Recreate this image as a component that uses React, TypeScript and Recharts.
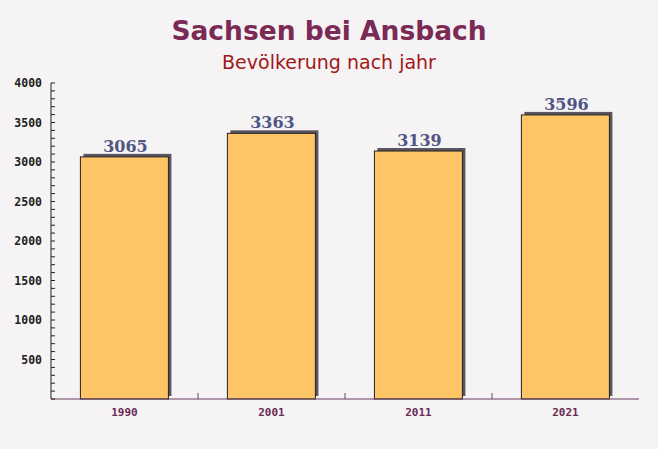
import React from 'react';
import { BarChart, Bar, XAxis, YAxis, LabelList } from 'recharts';

const years = ['1990', '2001', '2011', '2021'];
const population = [3065, 3363, 3139, 3596];
const yMajorTicks = [500, 1000, 1500, 2000, 2500, 3000, 3500, 4000];

const data = years.map((year, i) => ({ year, value: population[i] }));

const W = 658;
const H = 449;
const PLOT_LEFT = 51;
const PLOT_RIGHT = 639;
const PLOT_TOP = 83;
const PLOT_BOTTOM = 399;
const band = (PLOT_RIGHT - PLOT_LEFT) / years.length;

const minorTicks: number[] = [];
for (let v = 0; v <= 4000; v += 100) minorTicks.push(v);

function BarShape(props: any) {
  const { x, y, width, height } = props;
  return (
    <g>
      <rect x={x + 3} y={y - 3} width={width} height={height} fill="#5a5560" />
      <rect x={x} y={y} width={width} height={height} fill="#fdc566" stroke="#222" strokeWidth={1} />
    </g>
  );
}

function YTick(props: any) {
  const { y, payload } = props;
  const major = yMajorTicks.includes(payload.value);
  return (
    <g>
      <line x1={PLOT_LEFT} x2={PLOT_LEFT + 4} y1={y} y2={y} stroke="#222" strokeWidth={1} />
      {major && (
        <text
          x={PLOT_LEFT - 9}
          y={y}
          dy={4}
          textAnchor="end"
          fontFamily="'DejaVu Sans Mono', monospace"
          fontWeight="bold"
          fontSize={11.5}
          fill="#222"
        >
          {payload.value}
        </text>
      )}
    </g>
  );
}

function XTick(props: any) {
  const { x, payload, index } = props;
  return (
    <g>
      {index < years.length - 1 && (
        <line x1={x + band / 2} x2={x + band / 2} y1={PLOT_BOTTOM - 6} y2={PLOT_BOTTOM} stroke="#555" strokeWidth={1} />
      )}
      <text
        x={x}
        y={PLOT_BOTTOM + 17}
        textAnchor="middle"
        fontFamily="'DejaVu Sans Mono', monospace"
        fontWeight="bold"
        fontSize={11}
        fill="#6b2a55"
      >
        {payload.value}
      </text>
    </g>
  );
}

function ValueLabel(props: any) {
  const { x, y, width, value } = props;
  return (
    <text
      x={x + width / 2 + 1}
      y={y - 5}
      textAnchor="middle"
      fontFamily="'DejaVu Serif', serif"
      fontWeight="bold"
      fontSize={16}
      fill="#4f5585"
    >
      {value}
    </text>
  );
}

export default function App() {
  return (
    <div
      style={{
        position: 'absolute',
        left: 0,
        top: 0,
        width: W,
        height: H,
        background: '#f5f3f3',
        overflow: 'hidden',
      }}
    >
      <div
        style={{
          position: 'absolute',
          top: 15,
          width: W,
          textAlign: 'center',
          fontFamily: "'DejaVu Sans', sans-serif",
          fontWeight: 'bold',
          fontSize: 26.5,
          color: '#7a2a55',
        }}
      >
        Sachsen bei Ansbach
      </div>
      <div
        style={{
          position: 'absolute',
          top: 51,
          width: W,
          textAlign: 'center',
          fontFamily: "'DejaVu Sans', sans-serif",
          fontSize: 19,
          color: '#a01818',
        }}
      >
        Bevölkerung nach jahr
      </div>
      <div style={{ position: 'absolute', left: 0, top: 0 }}>
        <BarChart
          width={W}
          height={H}
          data={data}
          margin={{ top: PLOT_TOP, right: W - PLOT_RIGHT, bottom: H - PLOT_BOTTOM - 30, left: 0 }}
          barCategoryGap="20%"
        >
          <YAxis
            width={PLOT_LEFT}
            domain={[0, 4000]}
            ticks={minorTicks}
            interval={0}
            axisLine={{ stroke: '#222', strokeWidth: 1 }}
            tickLine={false}
            tick={<YTick />}
          />
          <XAxis
            dataKey="year"
            height={30}
            axisLine={{ stroke: '#6b3a60', strokeWidth: 1 }}
            tickLine={false}
            tick={<XTick />}
          />
          <Bar dataKey="value" shape={<BarShape />} isAnimationActive={false}>
            <LabelList dataKey="value" content={<ValueLabel />} />
          </Bar>
        </BarChart>
      </div>
    </div>
  );
}
